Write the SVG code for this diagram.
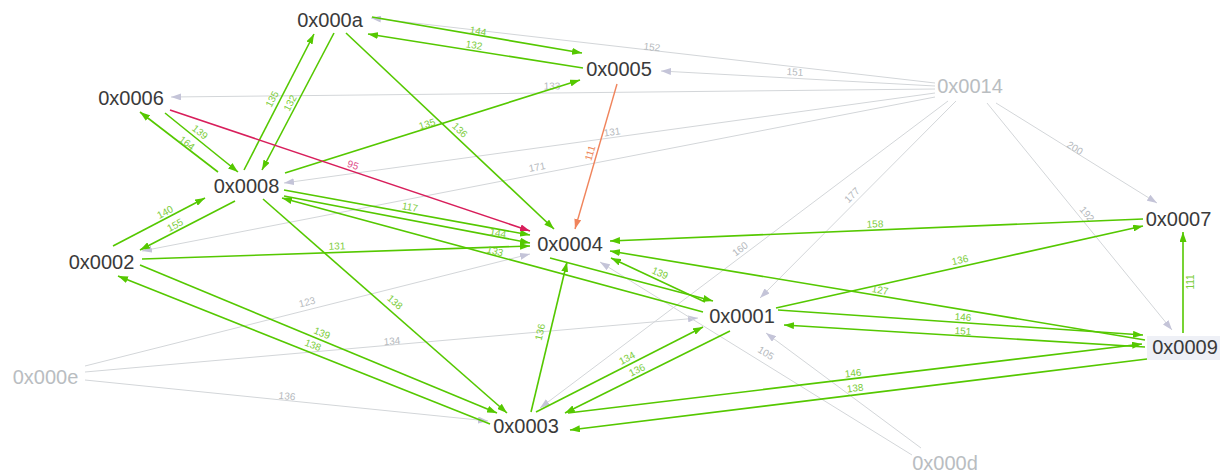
<svg xmlns="http://www.w3.org/2000/svg" width="1224" height="473" viewBox="0 0 1224 473">
<style>
.bg{fill:#ffffff}
.nd{font-family:"Liberation Sans",Arial,sans-serif;font-size:20px;text-anchor:middle;fill:#3a3a3a}
.nf{fill:#b9bdc1}
.g{stroke:#55c800;stroke-width:1.6;fill:none;marker-end:url(#ag)}
.gy{stroke:#d3d6d9;stroke-width:1;fill:none;marker-end:url(#ay)}
.rd{stroke:#d81e5b;stroke-width:1.6;fill:none;marker-end:url(#ar)}
.or{stroke:#f0845c;stroke-width:1.4;fill:none;marker-end:url(#ao)}
.lb{font-family:"Liberation Sans",Arial,sans-serif;font-size:10px;text-anchor:middle;dominant-baseline:central}
.lg{fill:#7ccd3c}
.ly{fill:#b5b9bd}
.lr{fill:#e0508a}
.lo{fill:#ee8a60}
</style>
<defs>
<marker id="ag" markerUnits="userSpaceOnUse" markerWidth="10" markerHeight="7" refX="10" refY="3.5" orient="auto"><path d="M0,0 L10,3.5 L0,7 z" fill="#55c800"/></marker>
<marker id="ay" markerUnits="userSpaceOnUse" markerWidth="10" markerHeight="7" refX="10" refY="3.5" orient="auto"><path d="M0,0 L10,3.5 L0,7 z" fill="#c4c4d8"/></marker>
<marker id="ar" markerUnits="userSpaceOnUse" markerWidth="10" markerHeight="7" refX="10" refY="3.5" orient="auto"><path d="M0,0 L10,3.5 L0,7 z" fill="#d81e5b"/></marker>
<marker id="ao" markerUnits="userSpaceOnUse" markerWidth="10" markerHeight="7" refX="10" refY="3.5" orient="auto"><path d="M0,0 L10,3.5 L0,7 z" fill="#f0845c"/></marker>
</defs>
<rect class="bg" x="0" y="0" width="1224" height="473"/>
<g id="connectors">
<!-- gray -->
<line class="gy" x1="935" y1="83" x2="371" y2="18"/>
<line class="gy" x1="935" y1="86" x2="661" y2="71"/>
<line class="gy" x1="935" y1="89" x2="171" y2="97"/>
<line class="gy" x1="935" y1="93" x2="284" y2="183"/>
<line class="gy" x1="935" y1="97" x2="142" y2="251"/>
<line class="gy" x1="956" y1="101" x2="760" y2="298"/>
<line class="gy" x1="948" y1="101" x2="540" y2="408"/>
<line class="gy" x1="996" y1="103" x2="1157" y2="203"/>
<line class="gy" x1="987" y1="103" x2="1172" y2="330"/>
<line class="gy" x1="85" y1="366" x2="530" y2="254"/>
<line class="gy" x1="85" y1="372" x2="698" y2="318"/>
<line class="gy" x1="85" y1="380" x2="488" y2="421"/>
<line class="gy" x1="921" y1="448" x2="766" y2="333"/>
<line class="gy" x1="912" y1="455" x2="600" y2="262"/>
<text class="lb ly" transform="translate(652,47) rotate(6.6)">152</text>
<text class="lb ly" transform="translate(795,72) rotate(3.1)">151</text>
<text class="lb ly" transform="translate(552,86) rotate(-0.6)">133</text>
<text class="lb ly" transform="translate(612,132) rotate(-7.9)">131</text>
<text class="lb ly" transform="translate(537,167) rotate(-11)">171</text>
<text class="lb ly" transform="translate(852,195) rotate(-45.3)">177</text>
<text class="lb ly" transform="translate(740,249) rotate(-37)">160</text>
<text class="lb ly" transform="translate(1075,148) rotate(31.8)">200</text>
<text class="lb ly" transform="translate(1087,214) rotate(50.9)">192</text>
<text class="lb ly" transform="translate(307,302) rotate(-14.1)">123</text>
<text class="lb ly" transform="translate(392,341) rotate(-5)">134</text>
<text class="lb ly" transform="translate(287,396) rotate(5.8)">136</text>
<text class="lb ly" transform="translate(766,353) rotate(31.7)">105</text>
<!-- green -->
<line class="g" x1="372" y1="17" x2="582" y2="53"/>
<line class="g" x1="583" y1="68" x2="368" y2="34"/>
<line class="g" x1="244" y1="170" x2="314" y2="34"/>
<line class="g" x1="334" y1="33" x2="262" y2="170"/>
<line class="g" x1="346" y1="33" x2="554" y2="229"/>
<line class="g" x1="285" y1="173" x2="580" y2="80"/>
<line class="g" x1="165" y1="113" x2="238" y2="172"/>
<line class="g" x1="218" y1="172" x2="140" y2="112"/>
<line class="g" x1="113" y1="246" x2="205" y2="198"/>
<line class="g" x1="235" y1="201" x2="140" y2="250"/>
<line class="g" x1="142" y1="259" x2="530" y2="246"/>
<line class="g" x1="284" y1="190" x2="530" y2="235"/>
<line class="g" x1="284" y1="196" x2="530" y2="243"/>
<line class="g" x1="703" y1="312" x2="282" y2="198"/>
<line class="g" x1="263" y1="199" x2="507" y2="413"/>
<line class="g" x1="140" y1="265" x2="497" y2="413"/>
<line class="g" x1="490" y1="424" x2="118" y2="276"/>
<line class="g" x1="531" y1="412" x2="567" y2="262"/>
<line class="g" x1="536" y1="412" x2="703" y2="327"/>
<line class="g" x1="730" y1="331" x2="565" y2="413"/>
<line class="g" x1="1147" y1="359" x2="570" y2="430"/>
<line class="g" x1="568" y1="413" x2="1142" y2="344"/>
<line class="g" x1="1143" y1="219" x2="610" y2="241"/>
<line class="g" x1="776" y1="308" x2="1143" y2="226"/>
<line class="g" x1="1183" y1="333" x2="1183" y2="232"/>
<line class="g" x1="1145" y1="340" x2="610" y2="251"/>
<line class="g" x1="778" y1="310" x2="1143" y2="335"/>
<line class="g" x1="1145" y1="347" x2="784" y2="325"/>
<line class="g" x1="705" y1="302" x2="611" y2="258"/>
<line class="g" x1="550" y1="258" x2="713" y2="301"/>
<text class="lb lg" transform="translate(478,31) rotate(9.7)">144</text>
<text class="lb lg" transform="translate(474,45) rotate(9)">132</text>
<text class="lb lg" transform="translate(272,99) rotate(-62.8)">135</text>
<text class="lb lg" transform="translate(290,103) rotate(-62.3)">132</text>
<text class="lb lg" transform="translate(460,130) rotate(43.3)">136</text>
<text class="lb lg" transform="translate(427,124) rotate(-17.5)">135</text>
<text class="lb lg" transform="translate(200,132) rotate(38.9)">139</text>
<text class="lb lg" transform="translate(187,143) rotate(37.6)">164</text>
<text class="lb lg" transform="translate(165,212) rotate(-27.6)">140</text>
<text class="lb lg" transform="translate(175,225) rotate(-27.3)">155</text>
<text class="lb lg" transform="translate(337,246) rotate(-1.9)">131</text>
<text class="lb lg" transform="translate(410,207) rotate(10.4)">117</text>
<text class="lb lg" transform="translate(498,233) rotate(10.8)">144</text>
<text class="lb lg" transform="translate(495,251) rotate(15.2)">133</text>
<text class="lb lg" transform="translate(395,302) rotate(41.2)">138</text>
<text class="lb lg" transform="translate(322,333) rotate(22.5)">139</text>
<text class="lb lg" transform="translate(313,345) rotate(21.7)">138</text>
<text class="lb lg" transform="translate(540,332) rotate(-76.5)">136</text>
<text class="lb lg" transform="translate(627,358) rotate(-27)">134</text>
<text class="lb lg" transform="translate(637,370) rotate(-26.4)">136</text>
<text class="lb lg" transform="translate(855,388) rotate(-7)">138</text>
<text class="lb lg" transform="translate(853,373) rotate(-6.9)">146</text>
<text class="lb lg" transform="translate(875,224) rotate(-2.4)">158</text>
<text class="lb lg" transform="translate(960,260) rotate(-12.6)">136</text>
<text class="lb lg" transform="translate(1190,282) rotate(-90)">111</text>
<text class="lb lg" transform="translate(880,290) rotate(9.4)">127</text>
<text class="lb lg" transform="translate(963,317) rotate(3.9)">146</text>
<text class="lb lg" transform="translate(963,331) rotate(3.5)">151</text>
<text class="lb lg" transform="translate(660,273) rotate(25.1)">139</text>
<!-- red / orange -->
<line class="rd" x1="170" y1="110" x2="530" y2="231"/>
<line class="or" x1="617" y1="84" x2="575" y2="229"/>
<text class="lb lr" transform="translate(353,165) rotate(18.6)">95</text>
<text class="lb lo" transform="translate(590,153) rotate(-73.8)">111</text>
</g>
<g id="n-0x000a"><text class="nd" x="330" y="27">0x000a</text></g>
<g id="n-0x0005"><text class="nd" x="619" y="76">0x0005</text></g>
<g id="n-0x0014"><text class="nd nf" x="970" y="93">0x0014</text></g>
<g id="n-0x0006"><text class="nd" x="131" y="104.5">0x0006</text></g>
<g id="n-0x0008"><text class="nd" x="246.5" y="193">0x0008</text></g>
<g id="n-0x0002"><text class="nd" x="101.5" y="268.5">0x0002</text></g>
<g id="n-0x0004"><text class="nd" x="570" y="251">0x0004</text></g>
<g id="n-0x0007"><text class="nd" x="1178.5" y="225.5">0x0007</text></g>
<g id="n-0x0001"><text class="nd" x="742" y="323">0x0001</text></g>
<g id="n-0x0009"><rect x="1147" y="336" width="73" height="24" fill="#eef0f6"/><text class="nd" x="1185" y="353.5">0x0009</text></g>
<g id="n-0x000e"><text class="nd nf" x="45.5" y="383.5">0x000e</text></g>
<g id="n-0x0003"><text class="nd" x="526" y="433">0x0003</text></g>
<g id="n-0x000d"><text class="nd nf" x="945" y="470">0x000d</text></g>
</svg>
